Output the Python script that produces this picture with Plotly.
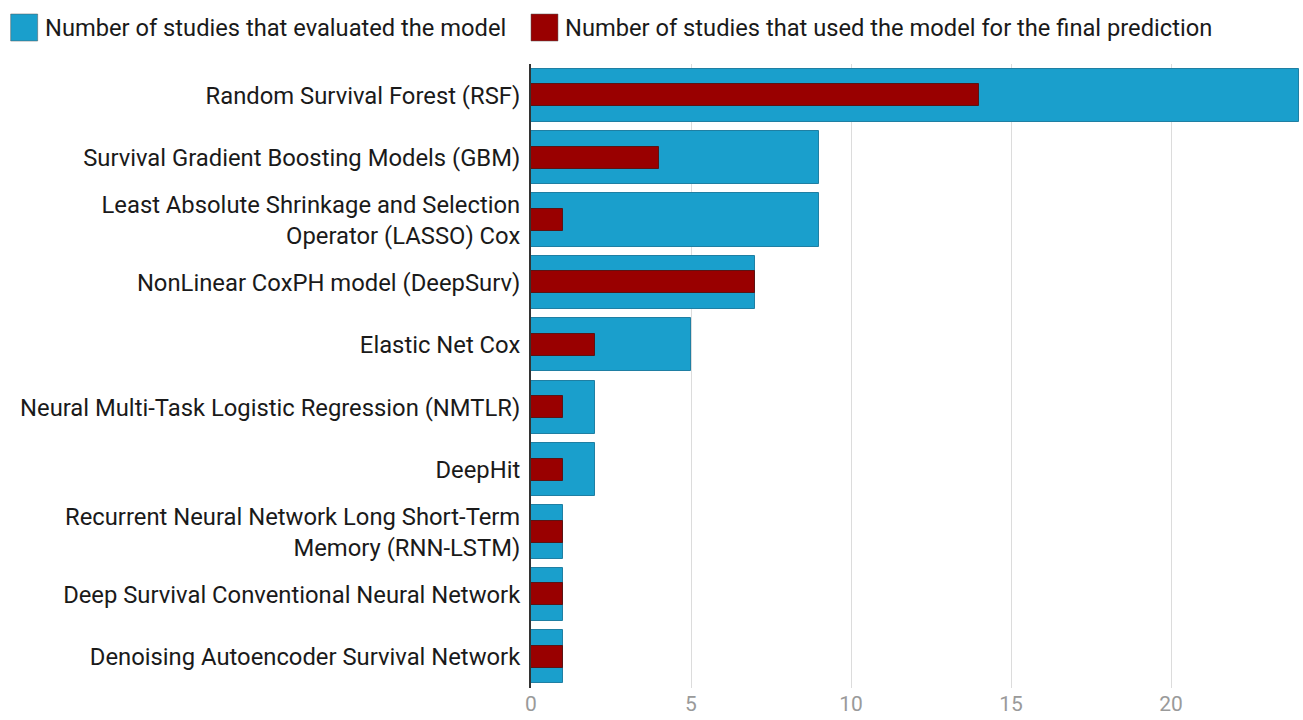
import plotly.graph_objects as go

categories = [
    "Random Survival Forest (RSF)",
    "Survival Gradient Boosting Models (GBM)",
    "Least Absolute Shrinkage and Selection<br>Operator (LASSO) Cox",
    "NonLinear CoxPH model (DeepSurv)",
    "Elastic Net Cox",
    "Neural Multi-Task Logistic Regression (NMTLR)",
    "DeepHit",
    "Recurrent Neural Network Long Short-Term<br>Memory (RNN-LSTM)",
    "Deep Survival Conventional Neural Network",
    "Denoising Autoencoder Survival Network",
]
evaluated = [24, 9, 9, 7, 5, 2, 2, 1, 1, 1]
final_used = [14, 4, 1, 7, 2, 1, 1, 1, 1, 1]
series_names = [
    "Number of studies that evaluated the model",
    "Number of studies that used the model for the final prediction",
]
tick_vals = [0, 5, 10, 15, 20]

BLUE = "#1a9fcc"
RED = "#990000"

fig = go.Figure()
fig.add_trace(go.Bar(
    y=categories, x=evaluated, orientation="h", name=series_names[0],
    width=0.85, marker=dict(color=BLUE, line=dict(color="#1f7fa3", width=1)),
    showlegend=False,
))
fig.add_trace(go.Bar(
    y=categories, x=final_used, orientation="h", name=series_names[1],
    width=0.35, marker=dict(color=RED, line=dict(color="#5a1414", width=1)),
    showlegend=False,
))

# Manual legend (squares + text)
legend_items = [(10, BLUE, series_names[0]), (531, RED, series_names[1])]
for x0, col, txt in legend_items:
    fig.add_shape(type="rect", xref="paper", yref="paper",
                  x0=(x0 - 531) / 769, x1=(x0 + 27 - 531) / 769,
                  y0=(688 - 41) / 624, y1=(688 - 14) / 624,
                  fillcolor=col, line=dict(color="#555", width=0.5))
    fig.add_annotation(xref="paper", yref="paper",
                       x=(x0 + 32 - 531) / 769, y=(688 - 27.5) / 624,
                       text=txt, showarrow=False, xanchor="left", yanchor="middle",
                       font=dict(family="Roboto", size=23.7, color="#1a1a1a"))

fig.update_layout(
    barmode="overlay",
    width=1303, height=720,
    margin=dict(l=531, r=4, t=64, b=32, autoexpand=False),
    paper_bgcolor="white", plot_bgcolor="white",
    font=dict(family="Roboto", size=24, color="#1a1a1a"),
    bargap=0,
)
fig.update_xaxes(range=[0, 24], tickvals=tick_vals, showgrid=True,
                 gridcolor="#dcdcdc", gridwidth=1, zeroline=False,
                 tickfont=dict(size=21, color="#9a9a9a"), ticks="", showline=False,
                 ticklabelstandoff=1, automargin=False)
fig.update_yaxes(autorange="reversed", showgrid=False, ticks="", ticklabelstandoff=4,
                 showline=True, linecolor="#333333", linewidth=2, automargin=False,
                 tickfont=dict(size=23.8, color="#1a1a1a"))

fig.write_html("out.html")
